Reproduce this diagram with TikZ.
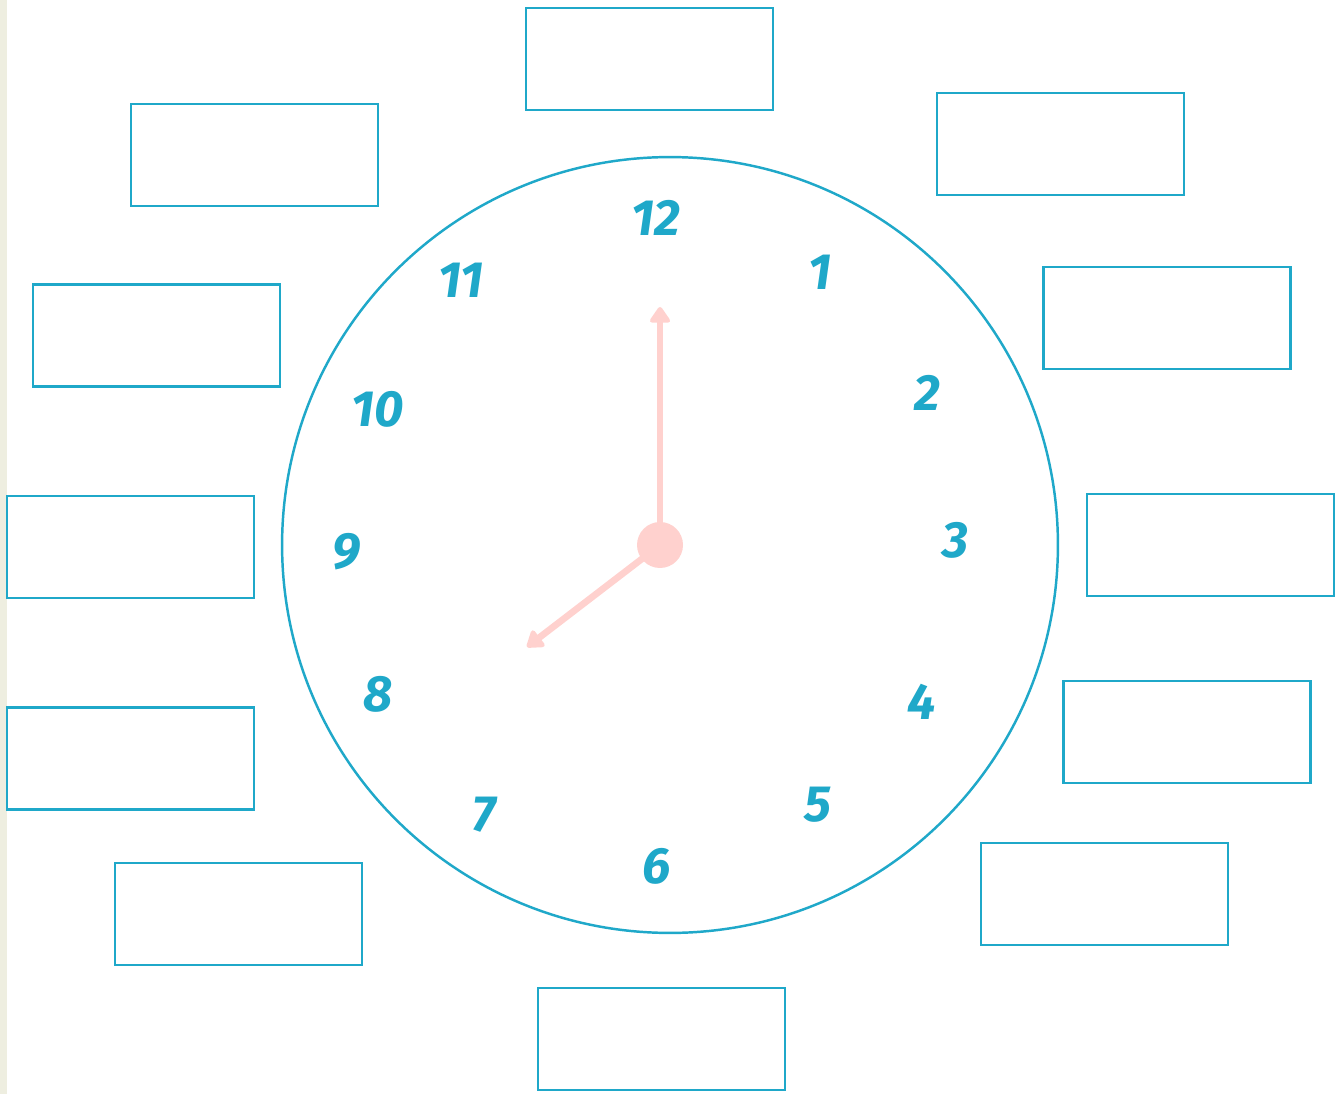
\documentclass[tikz,border=0pt]{standalone}
\usepackage{fontspec}
\setmainfont{Fira Sans}
\usepackage{tikz}
\usetikzlibrary{arrows.meta, positioning}
\definecolor{clockteal}{RGB}{31, 168, 201}
\definecolor{handpink}{RGB}{255, 209, 206}
\definecolor{edgebeige}{RGB}{238, 238, 224}
\tikzset{
  answerbox/.style={
    rectangle, draw=clockteal, line width=1.6pt, fill=white,
    minimum width=4.94cm, minimum height=2.04cm, inner sep=0pt
  },
  hournum/.style={
    font=\fontsize{29}{29}\selectfont\bfseries\itshape, text=clockteal, inner sep=0pt
  },
  hand/.style={-{Triangle[length=10pt, width=13pt, round]}, line width=3.8pt, color=handpink, line cap=round},
}
\begin{document}
\begin{tikzpicture}[x=0.02cm, y=-0.02cm]

% ── Canvas ─────────────────────────────────────────────────
\useasboundingbox (0,0) rectangle (1341,1094);
\fill[white] (0,0) rectangle (1341,1094);
\fill[edgebeige] (0,0) rectangle (7,1094);

% ── Clock Face ─────────────────────────────────────────────
\node[circle, draw=clockteal, line width=1.4pt, minimum size=15.52cm, inner sep=0pt] (face) at (670, 545) {};

% ── Hour Numbers ───────────────────────────────────────────
\node[hournum] (n12) at (656, 218) {12};
\node[hournum] (n1)  at (820, 272) {1};
\node[hournum] (n2)  at (927, 393) {2};
\node[hournum] (n3)  at (955, 540) {3};
\node[hournum] (n4)  at (922, 702) {4};
\node[hournum] (n5)  at (818, 805) {5};
\node[hournum] (n6)  at (657, 866) {6};
\node[hournum] (n7)  at (484, 815) {7};
\node[hournum] (n8)  at (378, 694) {8};
\node[hournum] (n9)  at (347, 552) {9};
\node[hournum] (n10) at (378, 409) {10};
\node[hournum] (n11) at (461, 280) {11};

% ── Answer Boxes ───────────────────────────────────────────
\node[answerbox] (box12) at (649.5, 59)   {};
\node[answerbox] (box1)  at (1060.5, 144) {};
\node[answerbox] (box2)  at (1167, 318)   {};
\node[answerbox] (box3)  at (1210.5, 545) {};
\node[answerbox] (box4)  at (1187, 732)   {};
\node[answerbox] (box5)  at (1104.5, 894) {};
\node[answerbox] (box6)  at (661.5, 1039) {};
\node[answerbox] (box7)  at (238.5, 914)  {};
\node[answerbox] (box8)  at (130.5, 758.5) {};
\node[answerbox] (box9)  at (130.5, 547)  {};
\node[answerbox] (box10) at (156.5, 335.5) {};
\node[answerbox] (box11) at (254.5, 155)  {};

% ── Hands ──────────────────────────────────────────────────
\node[circle, fill=handpink, minimum size=0.92cm, inner sep=0pt] (hub) at (660, 545) {};
\coordinate (minute_tip) at (660, 307);
\coordinate (hour_tip)   at (527, 647);
\draw[hand] (hub.center) -- (minute_tip);
\draw[hand] (hub.center) -- (hour_tip);

\end{tikzpicture}
\end{document}
